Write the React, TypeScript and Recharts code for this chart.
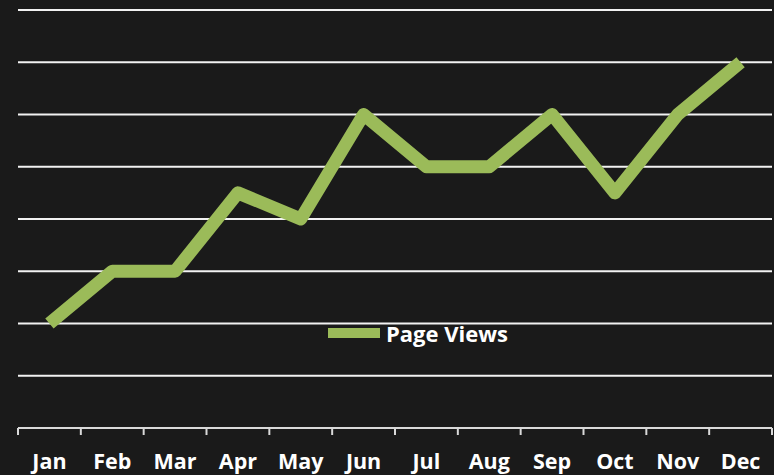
import React from "react";
import { LineChart, Line, XAxis, YAxis, CartesianGrid, Legend } from "recharts";

const months = ["Jan", "Feb", "Mar", "Apr", "May", "Jun", "Jul", "Aug", "Sep", "Oct", "Nov", "Dec"];
const pageViews = [2, 3, 3, 4.5, 4, 6, 5, 5, 6, 4.5, 6, 7];
const yTicks = [0, 1, 2, 3, 4, 5, 6, 7, 8];

const data = months.map((m, i) => ({ month: m, views: pageViews[i] }));

const W = 774;
const H = 475;
const M = { top: 10, right: 2, left: 18, bottom: 0 };
const AXIS_H = 47;
const plotW = W - M.left - M.right;
const half = plotW / months.length / 2;
const FONT = "'Open Sans', sans-serif";

const Tick = (props: any) => {
  const { x, y, payload, index } = props;
  const isLast = index === months.length - 1;
  return (
    <g>
      <line x1={x - half} x2={x - half} y1={y} y2={y + 7} stroke="#d9d9d9" strokeWidth={2} />
      {isLast && <line x1={x + half} x2={x + half} y1={y} y2={y + 7} stroke="#d9d9d9" strokeWidth={2} />}
      <text x={x} y={y + 41} textAnchor="middle" fill="#ffffff" fontFamily={FONT} fontWeight={700} fontSize={21.5}>
        {payload.value}
      </text>
    </g>
  );
};

const LegendContent = () => (
  <div style={{ display: "flex", alignItems: "center", fontFamily: FONT, fontWeight: 700, fontSize: 22, color: "#ffffff", lineHeight: "26px" }}>
    <span style={{ display: "inline-block", width: 52, height: 10, background: "#9bbb59", marginRight: 6 }} />
    <span>Page Views</span>
  </div>
);

export default function App() {
  return (
    <div style={{ position: "absolute", left: 0, top: 0, width: W, height: H, background: "#1a1a1a" }}>
      <LineChart width={W} height={H} data={data} margin={M}>
        <CartesianGrid horizontal vertical={false} stroke="#f2f2f2" strokeWidth={2} />
        <XAxis
          dataKey="month"
          padding={{ left: half, right: half }}
          axisLine={{ stroke: "#d9d9d9", strokeWidth: 2 }}
          tickLine={false}
          tickSize={0}
          tickMargin={0}
          tick={<Tick />}
          interval={0}
          height={AXIS_H}
        />
        <YAxis hide domain={[0, 8]} ticks={yTicks} />
        <Legend
          content={<LegendContent />}
          verticalAlign="middle"
          align="center"
          wrapperStyle={{ position: "absolute", left: 328, top: 320, width: "auto", height: 26 }}
        />
        <Line
          type="linear"
          dataKey="views"
          name="Page Views"
          stroke="#9bbb59"
          strokeWidth={13}
          strokeLinejoin="round"
          dot={false}
          activeDot={false}
          isAnimationActive={false}
        />
      </LineChart>
    </div>
  );
}
